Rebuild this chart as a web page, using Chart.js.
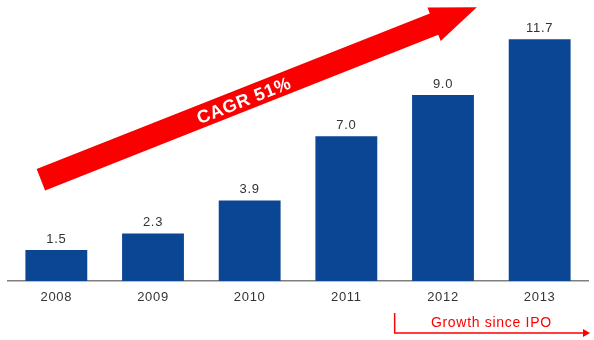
<!DOCTYPE html>
<html>
<head>
<meta charset="utf-8">
<script src="https://cdn.jsdelivr.net/npm/chart.js@4/dist/chart.umd.min.js"></script>
<style>
  html, body { margin: 0; padding: 0; background: #ffffff; }
  #wrap { width: 594px; height: 340px; position: relative; }
</style>
</head>
<body>
<div id="wrap"><canvas id="c" width="594" height="340"></canvas></div>
<script>
const categories = ["2008", "2009", "2010", "2011", "2012", "2013"];
const values = [1.5, 2.3, 3.9, 7.0, 9.0, 11.7];
const valueLabels = ["1.5", "2.3", "3.9", "7.0", "9.0", "11.7"];
const arrowLabel = "CAGR 51%";
const ipoLabel = "Growth since IPO";

const FONT = "'Liberation Sans', Arial, Helvetica, sans-serif";
const BLUE = "#0b4694";
const RED = "#ff0000";

const spacing = {
  id: "spacing",
  beforeDraw(chart) {
    chart.ctx.letterSpacing = "0.7px";
  }
};

const decorations = {
  id: "decorations",
  afterDatasetsDraw(chart) {
    const ctx = chart.ctx;
    const xs = chart.scales.x;
    const ys = chart.scales.y;
    const meta = chart.getDatasetMeta(0);

    // value labels above bars
    ctx.save();
    ctx.fillStyle = "#333333";
    ctx.font = "13px " + FONT;
    ctx.textAlign = "center";
    ctx.textBaseline = "alphabetic";
    meta.data.forEach((bar, i) => {
      ctx.fillText(valueLabels[i], bar.x, bar.y - 7);
    });
    ctx.restore();

    // big red CAGR arrow (anchored to scales)
    const tx = xs.getPixelForValue(-0.16), ty = ys.getPixelForValue(4.9);
    const hx = xs.getPixelForValue(4.35), hy = ys.getPixelForValue(13.25);
    const dx = hx - tx, dy = hy - ty;
    const L = Math.sqrt(dx * dx + dy * dy);
    const ang = Math.atan2(dy, dx);
    const sw = 11.5, hw = 18, hl = 46;
    ctx.save();
    ctx.translate(tx, ty);
    ctx.rotate(ang);
    ctx.fillStyle = "#fa0000";
    ctx.beginPath();
    ctx.moveTo(0, -sw);
    ctx.lineTo(L - hl, -sw);
    ctx.lineTo(L - hl, -hw);
    ctx.lineTo(L, 0);
    ctx.lineTo(L - hl, hw);
    ctx.lineTo(L - hl, sw);
    ctx.lineTo(0, sw);
    ctx.closePath();
    ctx.fill();
    ctx.fillStyle = "#ffffff";
    ctx.font = "bold 18px " + FONT;
    ctx.textAlign = "center";
    ctx.textBaseline = "middle";
    ctx.fillText(arrowLabel, 218, 2);
    ctx.restore();

    // Growth since IPO bracket
    const bx0 = xs.getPixelForValue(3.5);
    const bx1 = chart.width - 4;
    const by = chart.chartArea.bottom + 52;
    ctx.save();
    ctx.strokeStyle = RED;
    ctx.lineWidth = 1.5;
    ctx.beginPath();
    ctx.moveTo(bx0, by - 20);
    ctx.lineTo(bx0, by);
    ctx.lineTo(bx1 - 6, by);
    ctx.stroke();
    ctx.fillStyle = RED;
    ctx.beginPath();
    ctx.moveTo(bx1 - 7, by - 4);
    ctx.lineTo(bx1, by);
    ctx.lineTo(bx1 - 7, by + 4);
    ctx.closePath();
    ctx.fill();
    ctx.font = "14px " + FONT;
    ctx.textAlign = "center";
    ctx.textBaseline = "middle";
    ctx.fillText(ipoLabel, xs.getPixelForValue(4.5), by - 10);
    ctx.restore();
  }
};

new Chart(document.getElementById("c"), {
  type: "bar",
  data: {
    labels: categories,
    datasets: [{
      data: values,
      backgroundColor: BLUE,
      borderWidth: 0,
      barPercentage: 0.64,
      categoryPercentage: 1.0
    }]
  },
  options: {
    responsive: false,
    animation: false,
    devicePixelRatio: 1,
    layout: { padding: { left: 8, right: 6, top: 0, bottom: 0 } },
    plugins: { legend: { display: false }, tooltip: { enabled: false } },
    scales: {
      x: {
        grid: { display: false, drawTicks: false },
        border: { display: true, color: "#7f7f7f", width: 1.5 },
        ticks: { color: "#333333", font: { family: FONT, size: 13 }, padding: 9 },
        afterFit(scale) { scale.height = 59; }
      },
      y: {
        display: false,
        min: 0,
        max: 13.6
      }
    }
  },
  plugins: [spacing, decorations]
});
</script>
</body>
</html>
